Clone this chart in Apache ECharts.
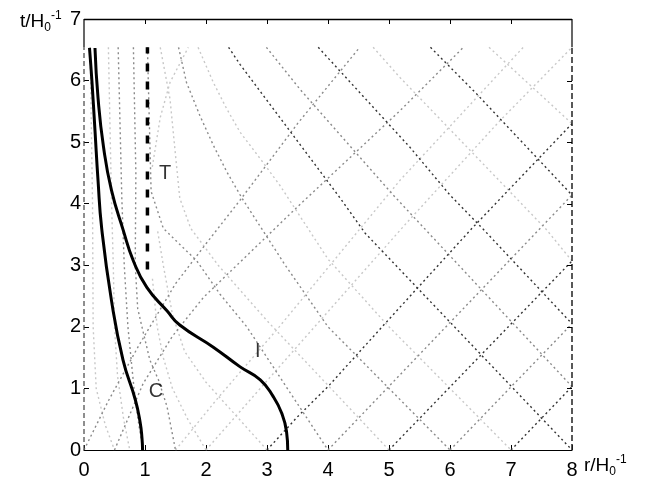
<!DOCTYPE html>
<html>
<head>
<meta charset="utf-8">
<script src="https://cdn.jsdelivr.net/npm/echarts@6/dist/echarts.min.js"></script>
<style>
html, body { margin: 0; padding: 0; background: #fff; }
#chart { width: 652px; height: 480px; }
</style>
</head>
<body>
<div id="chart"></div>
<script>
// axis ticks
var xTicks = [0, 1, 2, 3, 4, 5, 6, 7, 8];
var yTicks = [0, 1, 2, 3, 4, 5, 6, 7];

// thick curves
var curveC = [[0.09, 6.53], [0.13, 5.99], [0.18, 5.19], [0.23, 4.38], [0.29, 3.6], [0.45, 2.43], [0.64, 1.46], [0.84, 0.82], [0.92, 0.45], [0.95, 0.2], [0.96, 0.0]];
var curveI = [[0.18, 6.53], [0.23, 5.72], [0.32, 4.92], [0.45, 4.22], [0.64, 3.58], [0.81, 3.07], [1.03, 2.64], [1.36, 2.26], [1.57, 2.03], [2.12, 1.67], [2.56, 1.35], [2.89, 1.14], [3.10, 0.87], [3.24, 0.6], [3.32, 0.3], [3.34, 0.0]];
var lineT = [[1.04, 2.93], [1.04, 6.54]];

// light rays, grouped by shade
var raysDark = [
	[[2.37, 6.54], [2.56, 6.26], [4.2, 4.09], [4.61, 3.52], [8, 0]],
	[[3.84, 6.54], [5.34, 4.92], [6.0, 4.14], [6.55, 3.58], [8, 2.05]],
	[[5.68, 6.54], [6.44, 5.78], [8, 4.14]],
	[[3, 0], [3.51, 0.55], [4.0, 1.03], [4.96, 2.08], [6.36, 3.6], [8, 5.3]],
	[[5, 0], [8, 3.07]],
	[[7, 0], [8, 1.03]]
];
var raysGray = [
	[[2.99, 6.54], [3.54, 5.86], [5.07, 4.14], [8, 1.03]],
	[[1.55, 6.54], [1.68, 5.97], [1.9, 5.43], [2.12, 4.95], [2.34, 4.52], [2.59, 4.09], [3.3, 3.0], [4.0, 2.0], [6, 0]],
	[[4, 0], [8, 4.14]],
	[[6, 0], [8, 2.05]],
	[[0.5, 0], [0.97, 1.08], [1.45, 1.85], [1.96, 2.48], [3.5, 3.95], [5.18, 5.51], [6.22, 6.54]],
	[[0, 0], [0.4, 0.8], [0.9, 1.7], [1.5, 2.7], [2.0, 3.35], [2.56, 4.06], [3.5, 5.3], [4.52, 6.54]],
	[[0.81, 6.54], [0.85, 4.5], [0.84, 3.0], [0.88, 2.3], [0.95, 2.0], [1.08, 1.46], [1.22, 1.14], [1.36, 0.71], [1.5, 0]],
	[[0.56, 6.54], [0.62, 4.09], [0.66, 3.0], [0.72, 2.0], [0.82, 1.0], [0.9, 0.4], [0.97, 0]],
	[[1.04, 6.54], [1.1, 4.2], [1.3, 3.6], [1.85, 3.07], [2.23, 2.53], [2.67, 2.0], [3.3, 1.05], [4, 0]]
];
var raysLight = [
	[[4.74, 6.54], [5.18, 6.05], [7.58, 3.58], [8, 3.07]],
	[[6.64, 6.54], [8, 5.3]],
	[[1.87, 6.54], [2.12, 5.97], [2.34, 5.54], [2.56, 5.16], [2.89, 4.73], [3.21, 4.3], [4.0, 3.1], [5.0, 2.0], [7, 0]],
	[[1.25, 6.54], [1.41, 5.7], [1.49, 4.89], [1.57, 4.09], [1.75, 3.6], [2.2, 3.0], [3.0, 2.1], [4.0, 1.05], [5, 0]],
	[[1.5, 0], [2.2, 0.85], [3.2, 2.0], [5.18, 4.38], [7.2, 6.54]],
	[[2, 0], [3.6, 1.8], [5.29, 3.69], [6.82, 5.35], [8, 6.54]],
	[[0.40, 6.54], [0.45, 4.09], [0.48, 3.0], [0.5, 2.0], [0.55, 1.2], [0.65, 0.5], [0.75, 0]],
	[[0.1, 6.54], [0.14, 4.0], [0.15, 2.0], [0.2, 1.0], [0.35, 0.4], [0.5, 0]],
	[[2, 0], [1.7, 0.5], [1.45, 1.0], [1.3, 1.5], [1.2, 2.0], [1.12, 2.8]],
	[[3, 0], [2.5, 0.55], [2.0, 1.1], [1.65, 1.6], [1.45, 2.2], [1.3, 3.0], [1.2, 3.6]],
	[[1.12, 4.6], [1.25, 5.4], [1.41, 5.97], [1.71, 6.54]]
];

// curve labels
var labelPts = [['C', 1.18, 0.95], ['I', 2.85, 1.6], ['T', 1.33, 4.49]];

var chart = echarts.init(document.getElementById('chart'));
var series = [];

var addRays = function(list, color){
	for(var i = 0; i < list.length; i++){
		series.push({
			type: 'line', data: list[i], showSymbol: false, silent: true,
			lineStyle: {color: color, width: 1.4, type: [2, 3]}, z: 2
		});
	}
};
addRays(raysLight, '#c8c8c8');
addRays(raysGray, '#8a8a8a');
addRays(raysDark, '#333333');

series.push({type: 'line', data: curveC, showSymbol: false, smooth: true, lineStyle: {color: '#000', width: 3}, z: 5});
series.push({type: 'line', data: curveI, showSymbol: false, smooth: true, lineStyle: {color: '#000', width: 3}, z: 5});
series.push({type: 'line', data: lineT, showSymbol: false, lineStyle: {color: '#000', width: 3.5, type: [8, 10]}, z: 5});

// box edges: dashed below the top of the rays, solid above
series.push({type: 'line', clip: false, data: [[0, 0], [0, 6.54]], showSymbol: false, lineStyle: {color: '#444', width: 1.2, type: [5, 3]}, z: 4});
series.push({type: 'line', clip: false, data: [[8, 0], [8, 6.54]], showSymbol: false, lineStyle: {color: '#222', width: 1.5, type: [6, 3]}, z: 4});
series.push({type: 'line', clip: false, data: [[0, 6.54], [0, 7]], showSymbol: false, lineStyle: {color: '#000', width: 1.2}, z: 4});
series.push({type: 'line', clip: false, data: [[8, 6.54], [8, 7]], showSymbol: false, lineStyle: {color: '#000', width: 1.2}, z: 4});

series.push({
	type: 'scatter', symbolSize: 0, silent: true, z: 6,
	data: labelPts.map(function(p){ return {value: [p[1], p[2]], name: p[0]}; }),
	label: {show: true, position: 'inside', formatter: '{b}', color: '#000', fontSize: 20, fontFamily: 'Liberation Sans'}
});

var tickStyle = {show: true, inside: true, length: 5, lineStyle: {color: '#000'}};

var option = {
	animation: false,
	grid: {left: 84, right: 80, top: 19, bottom: 26},
	series: series
};

option.xAxis = {type: 'value', min: 0, max: 8, interval: 1, position: 'bottom',
	axisLine: {show: true, onZero: false, lineStyle: {color: '#000', width: 1.2}},
	axisTick: tickStyle, splitLine: {show: false},
	axisLabel: {color: '#000', fontSize: 20, fontFamily: 'Liberation Sans', margin: 10,
		formatter: function(v){ return xTicks.indexOf(v) >= 0 ? v : ''; }}};
option.yAxis = {type: 'value', min: 0, max: 7, interval: 1, position: 'left',
	axisLine: {show: false, onZero: false}, axisTick: tickStyle, splitLine: {show: false},
	axisLabel: {color: '#000', fontSize: 20, fontFamily: 'Liberation Sans', margin: 3,
		formatter: function(v){ return yTicks.indexOf(v) >= 0 ? v : ''; }}};

var nameRich = {
	a: {fontSize: 19, fontFamily: 'Liberation Sans', fill: '#000'},
	s: {fontSize: 12, fontFamily: 'Liberation Sans', fill: '#000', verticalAlign: 'bottom', padding: [12, 0, 0, 0]},
	p: {fontSize: 12, fontFamily: 'Liberation Sans', fill: '#000', verticalAlign: 'top', padding: [0, 0, 9, 0]}
};
option.graphic = [
	{type: 'text', left: 20, top: 10, style: {text: '{a|t/H}{s|0}{p|-1}', rich: nameRich}},
	{type: 'text', left: 584, top: 454, style: {text: '{a|r/H}{s|0}{p|-1}', rich: nameRich}}
];

chart.setOption(option);

// top border and the mirrored ticks on the top and right sides
var px = function(x, y){ return chart.convertToPixel({gridIndex: 0}, [x, y]); };
var extra = [];
var a = px(0, 7), b = px(8, 7);
extra.push({type: 'line', shape: {x1: a[0], y1: Math.round(a[1]) + 0.5, x2: b[0], y2: Math.round(b[1]) + 0.5}, style: {stroke: '#000', lineWidth: 1.5}, z: 100});
xTicks.forEach(function(v){
	if(v == 0 || v == 8) return;
	var p = px(v, 7);
	extra.push({type: 'line', shape: {x1: Math.round(p[0]) + 0.5, y1: p[1], x2: Math.round(p[0]) + 0.5, y2: p[1] + 5}, style: {stroke: '#000', lineWidth: 1}, z: 100});
});
yTicks.forEach(function(v){
	if(v == 0 || v == 7) return;
	var p = px(8, v);
	extra.push({type: 'line', shape: {x1: p[0] - 5, y1: Math.round(p[1]) + 0.5, x2: p[0], y2: Math.round(p[1]) + 0.5}, style: {stroke: '#000', lineWidth: 1}, z: 100});
});
chart.setOption({graphic: option.graphic.concat(extra)});
</script>
</body>
</html>
